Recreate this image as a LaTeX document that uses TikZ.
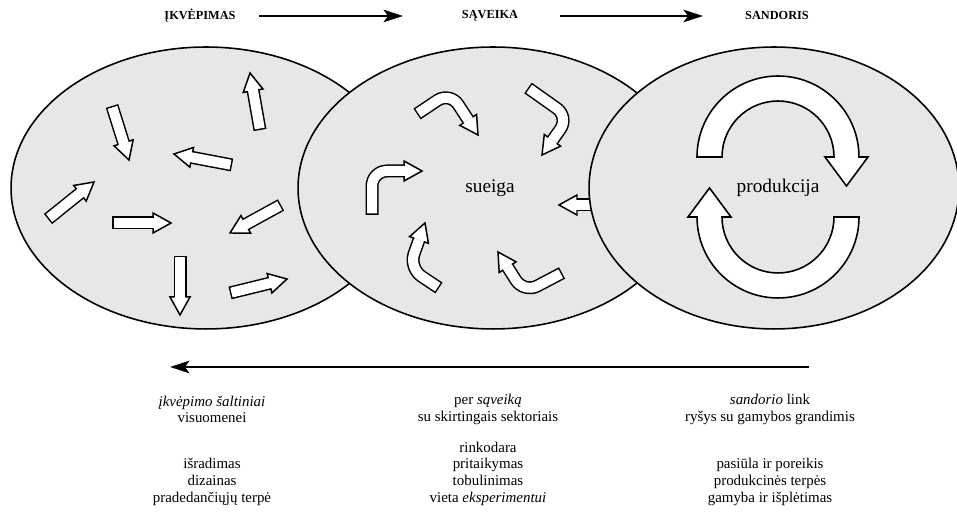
\documentclass[tikz,border=0pt]{standalone}
\usepackage{fontspec}
\setmainfont{Liberation Serif}
\usetikzlibrary{calc,arrows.meta}

\definecolor{ovalgray}{HTML}{E6E7E8}

\tikzset{
  oval/.style={draw=black, fill=ovalgray, line width=0.9pt},
  shaftout/.style={line width=0.26cm, black},
  shaftin/.style={line width=0.2cm, white, shorten <=0.03cm},
  headfill/.style={fill=white, draw=black, line width=0.85pt, line join=miter},
  ring/.style={fill=white, draw=black, line width=0.9pt},
  flowarr/.style={line width=1.6pt, -{Stealth[length=11pt,width=7pt,inset=2.5pt]}},
  toplbl/.style={font=\bfseries\fontsize{7}{8}\selectfont},
  midlbl/.style={font=\fontsize{11}{13}\selectfont},
  collbl/.style={font=\fontsize{8.5}{9.5}\selectfont, align=center}
}

% head of a block arrow: base point, tip
\newcommand{\arrhead}[2]{%
  \filldraw[headfill] ($(#1)!0.2cm!90:(#2)$) -- (#2) -- ($(#1)!0.2cm!-90:(#2)$) -- cycle;}
% straight block arrow: tail, tip
\newcommand{\blockarr}[2]{%
  \coordinate (hb) at ($(#2)!0.36cm!(#1)$);
  \draw[shaftout] (#1) -- (hb);
  \arrhead{hb}{#2}
  \draw[shaftin] (#1) -- ($(hb)!0.04cm!(#2)$);}
% bent block arrow: tail, corner, tip
\newcommand{\bentarr}[3]{%
  \coordinate (hb) at ($(#3)!0.36cm!(#2)$);
  \draw[shaftout, rounded corners=0.3cm] (#1) -- (#2) -- (hb);
  \arrhead{hb}{#3}
  \draw[shaftin, rounded corners=0.3cm] (#1) -- (#2) -- (hb);
  \draw[line width=0.2cm, white] (hb) -- ($(hb)!0.04cm!(#3)$);}

\begin{document}
\begin{tikzpicture}[x=0.02cm, y=0.02cm]

    \useasboundingbox (0,0) rectangle (957,526);

    % stage titles and the arrows between them
    \node[toplbl] (ikv) at (200,510) {ĮKVĖPIMAS};
    \node[toplbl] (sav) at (490,510) {SĄVEIKA};
    \node[toplbl] (san) at (777,510) {SANDORIS};
    \coordinate (t1s) at (259,510);
    \coordinate (t1e) at (403,510);
    \coordinate (t2s) at (560,510);
    \coordinate (t2e) at (703,510);
    \draw[flowarr] (t1s) -- (t1e);
    \draw[flowarr] (t2s) -- (t2e);

    % left oval: scattered arrows
    \draw[oval] (206,338) ellipse [x radius=3.9cm, y radius=2.82cm];
    \blockarr{112,420}{129,366}
    \blockarr{260,396}{250,453}
    \blockarr{232,361}{174,372}
    \blockarr{48,307}{94,344}
    \blockarr{112,303}{171,303}
    \blockarr{281,321}{230,293}
    \blockarr{180,270}{180,211}
    \blockarr{230,233}{287,247}

    % middle oval: arrows turning round the centre
    \draw[oval] (493,338) ellipse [x radius=3.9cm, y radius=2.82cm];
    \bentarr{417,412}{450,434}{478,391}
    \bentarr{528,438}{569,409}{542,371}
    \bentarr{372,311}{372,355}{422,355}
    \bentarr{439,238}{409,258}{425,303}
    \bentarr{562,253}{524,233}{498,274}
    \blockarr{605,321}{559,321}
    \node[midlbl] (sueiga) at (490,338) {sueiga};

    % right oval: closed loop
    \draw[oval] (774,338) ellipse [x radius=3.7cm, y radius=2.82cm];
    \filldraw[ring] (697,369) arc[start angle=180, end angle=0, radius=1.62cm]
        -- (868,369) -- (846.5,340) -- (825,369) -- (834,369)
        arc[start angle=0, end angle=180, radius=1.12cm] -- cycle;
    \filldraw[ring] (859,309) arc[start angle=0, end angle=-180, radius=1.62cm]
        -- (688,309) -- (709.5,338) -- (731,309) -- (722,309)
        arc[start angle=180, end angle=360, radius=1.12cm] -- cycle;
    \node[midlbl] (prod) at (778,338) {produkcija};

    % return arrow
    \coordinate (b1s) at (809,159);
    \coordinate (b1e) at (170,159);
    \draw[flowarr] (b1s) -- (b1e);

    % texts under the ovals
    \node[collbl] (c1a) at (212,116.5) {\textit{įkvėpimo šaltiniai}\\visuomenei};
    \node[collbl] (c2a) at (488,116.5) {per \textit{sąveiką}\\su skirtingais sektoriais};
    \node[collbl] (c3a) at (770,116.5) {\textit{sandorio} link\\ryšys su gamybos grandimis};
    \node[collbl] (c1b) at (212,44) {išradimas\\dizainas\\pradedančiųjų terpė};
    \node[collbl] (c2b) at (488,52.5) {rinkodara\\pritaikymas\\tobulinimas\\vieta \textit{eksperimentui}};
    \node[collbl] (c3b) at (770,44) {pasiūla ir poreikis\\produkcinės terpės\\gamyba ir išplėtimas};

\end{tikzpicture}
\end{document}
